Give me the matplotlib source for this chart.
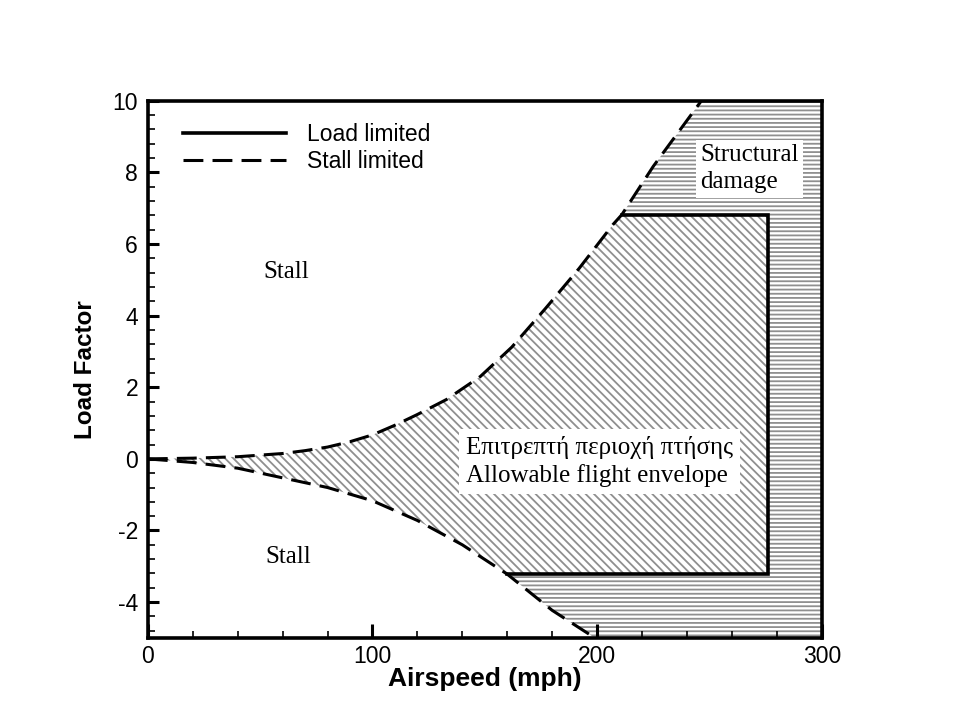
import numpy as np
import matplotlib
matplotlib.use('Agg')
import matplotlib.pyplot as plt
from matplotlib.ticker import MultipleLocator

# данные, снятые с рисунка
# верхняя граница сваливания
v_up = [0, 20, 40, 60, 70, 80, 90, 100, 110, 120, 133, 148, 162, 177, 192, 207, 211, 225, 247]
n_up = [0, 0.02, 0.06, 0.15, 0.23, 0.33, 0.48, 0.67, 0.94, 1.24, 1.66, 2.30, 3.12, 4.20, 5.32, 6.54, 6.82, 8.17, 10.05]
# нижняя граница сваливания
v_lo = [0, 20, 40, 60, 80, 100, 120, 140, 160, 180, 200]
n_lo = [0, -0.10, -0.26, -0.53, -0.80, -1.17, -1.72, -2.40, -3.22, -4.23, -5.04]
# ограничение по нагрузке
v_load = [211, 276, 276, 160]
n_load = [6.82, 6.82, -3.22, -3.22]

xlim = (0, 300)
ylim = (-5, 10)

plt.rcParams['hatch.linewidth'] = 1.3
plt.rcParams['axes.unicode_minus'] = False
plt.rcParams['font.family'] = ['Liberation Sans', 'DejaVu Sans']

fig = plt.figure(figsize=(9.6, 7.2), dpi=100)
ax = fig.add_axes([0.154, 0.114, 0.702, 0.746])

hatch_col = '#8f8f8f'
dash = (0, (6.5, 3.0))

# область допустимого полёта (косая штриховка)
up_in = [(v, n) for v, n in zip(v_up, n_up) if v <= v_load[0]]
lo_in = [(v, n) for v, n in zip(v_lo, n_lo) if v <= v_load[-1]]
poly_ok = up_in + list(zip(v_load, n_load)) + lo_in[::-1]
px, py = zip(*poly_ok)
ax.fill(px, py, facecolor='white', edgecolor=hatch_col, linewidth=0, hatch='\\\\\\\\')

# область разрушения конструкции (горизонтальная штриховка)
up_out = [(v, n) for v, n in zip(v_up, n_up) if v >= v_load[0]]
lo_out = [(v, n) for v, n in zip(v_lo, n_lo) if v >= v_load[-1]]
poly_dmg = (up_out + [(xlim[1], up_out[-1][1]), (xlim[1], lo_out[-1][1])]
            + lo_out[::-1] + list(zip(v_load, n_load))[::-1])
px, py = zip(*poly_dmg)
ax.fill(px, py, facecolor='white', edgecolor=hatch_col, linewidth=0, hatch='----')

# линии
ax.plot(v_load, n_load, color='black', lw=2.6, solid_joinstyle='miter',
        label='Load limited')
ax.plot(v_up, n_up, color='black', lw=2.2, linestyle=dash, label='Stall limited')
ax.plot(v_lo, n_lo, color='black', lw=2.2, linestyle=dash)

# подписи
serif = ['Liberation Serif', 'DejaVu Serif']
ax.text(61.4, 5.23, 'Stall', family=serif, fontsize=18, ha='center', va='center')
ax.text(62.3, -2.73, 'Stall', family=serif, fontsize=18, ha='center', va='center')
ax.text(246, 8.1, 'Structural\ndamage', family=serif, fontsize=18,
        ha='left', va='center', linespacing=1.3,
        bbox=dict(facecolor='white', edgecolor='none', pad=3))
ax.text(141.5, -0.08, 'Επιτρεπτή περιοχή πτήσης\nAllowable flight envelope',
        family=serif, fontsize=18, ha='left', va='center', linespacing=1.3,
        bbox=dict(facecolor='white', edgecolor='none', pad=5))

ax.legend(loc='upper left', bbox_to_anchor=(0.052, 0.958), frameon=False,
          fontsize=16.5, handlelength=4.5, handletextpad=0.9, labelspacing=0.15,
          borderpad=0, borderaxespad=0)

ax.set_xlim(*xlim)
ax.set_ylim(*ylim)
ax.xaxis.set_major_locator(MultipleLocator(100))
ax.xaxis.set_minor_locator(MultipleLocator(20))
ax.yaxis.set_major_locator(MultipleLocator(2))
ax.yaxis.set_minor_locator(MultipleLocator(0.4))
ax.set_yticks([-4, -2, 0, 2, 4, 6, 8, 10])
ax.tick_params(which='both', direction='in', top=False, right=False, labelsize=16.5)
ax.tick_params(axis='x', which='major', length=10, width=2.2, pad=5)
ax.tick_params(axis='x', which='minor', length=5, width=1.2)
ax.tick_params(axis='y', which='major', length=8, width=2.2, pad=7)
ax.tick_params(axis='y', which='minor', length=5, width=1.2)
for s in ax.spines.values():
    s.set_linewidth(2.6)

ax.set_xlabel('Airspeed (mph)', fontsize=19, fontweight='bold')
ax.set_ylabel('Load Factor', fontsize=17.5, fontweight='bold')
ax.xaxis.set_label_coords(0.5, -0.055)
ax.yaxis.set_label_coords(-0.076, 0.5)

fig.savefig('out.png', dpi=100)
